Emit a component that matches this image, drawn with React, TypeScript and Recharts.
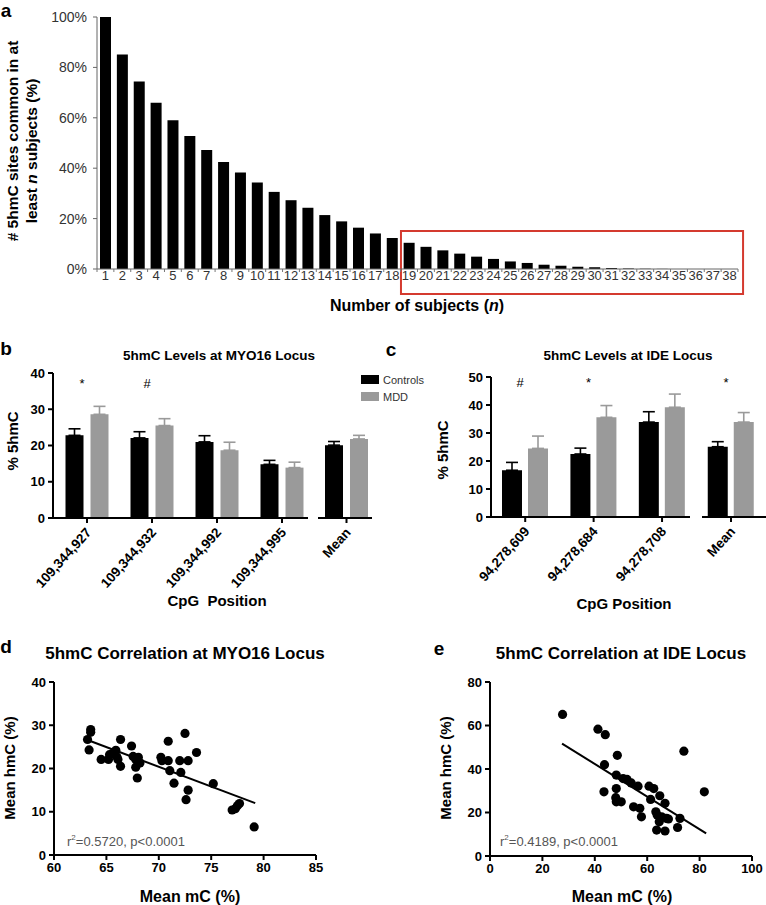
import React from 'react';
import {
  BarChart, Bar, XAxis, YAxis, ReferenceArea, ComposedChart, Scatter,
  ScatterChart, ErrorBar, ReferenceLine,
} from 'recharts';

const FONT = '"Liberation Sans", Arial, Helvetica, sans-serif';

// ---------- Panel a ----------
const subjects = [1, 2, 3, 4, 5, 6, 7, 8, 9, 10, 11, 12, 13, 14, 15, 16, 17, 18, 19, 20,
  21, 22, 23, 24, 25, 26, 27, 28, 29, 30, 31, 32, 33, 34, 35, 36, 37, 38];
const sharedPct = [100, 85.1, 74.4, 66, 59, 52.8, 47.2, 42.5, 38.3, 34.3, 30.6, 27.3, 24.3,
  21.4, 18.9, 16.4, 14.1, 12.3, 10.4, 8.8, 7.4, 6.1, 4.9, 4.0, 3.0, 2.4, 1.7, 1.3, 0.9, 0.7,
  0.4, 0.2, 0.1, 0.05, 0, 0, 0, 0];
const pctTicks = [0, 20, 40, 60, 80, 100];

// ---------- Panel b ----------
const myoPositions = ['109,344,927', '109,344,932', '109,344,992', '109,344,995'];
const myoControls = [22.8, 22.1, 21.0, 14.8];
const myoControlsErr = [1.8, 1.7, 1.7, 1.1];
const myoMdd = [28.6, 25.5, 18.7, 13.9];
const myoMddErr = [2.2, 1.9, 2.2, 1.5];
const myoSig = ['*', '#', '', ''];
const myoMeanLabel = ['Mean'];
const myoMeanControls = [20.1];
const myoMeanControlsErr = [1.0];
const myoMeanMdd = [21.8];
const myoMeanMddErr = [1.0];
const myoMeanSig = [''];
const myoTicks = [0, 10, 20, 30, 40];
const myoSigLevel = 36;

// ---------- Panel c ----------
const idePositions = ['94,278,609', '94,278,684', '94,278,708'];
const ideControls = [16.7, 22.5, 33.9];
const ideControlsErr = [2.8, 2.1, 3.7];
const ideMdd = [24.5, 35.6, 39.2];
const ideMddErr = [4.4, 4.2, 4.7];
const ideSig = ['#', '*', ''];
const ideMeanLabel = ['Mean'];
const ideMeanControls = [25.1];
const ideMeanControlsErr = [1.8];
const ideMeanMdd = [33.9];
const ideMeanMddErr = [3.4];
const ideMeanSig = ['*'];
const ideTicks = [0, 10, 20, 30, 40, 50];
const ideSigLevel = 46.5;

// ---------- Panel d ----------
const myoMc = [63.2, 63.35, 63.5, 63.5, 64.5, 65.2, 65.3, 65.6, 65.9, 66.0, 66.1, 66.35, 66.35,
  67.4, 67.55, 67.8, 67.8, 67.95, 68.05, 68.2, 70.2, 70.3, 70.9, 70.9, 71.05, 71.45, 72.0, 72.1,
  72.5, 72.6, 72.8, 72.8, 73.6, 75.2, 77.0, 77.3, 77.5, 77.7, 79.1];
const myoHmc = [26.7, 24.3, 29.0, 28.4, 22.1, 22.1, 23.2, 23.5, 24.2, 22.7, 22.1, 20.5, 26.7,
  25.2, 22.8, 22.1, 20.3, 17.8, 22.6, 21.3, 22.6, 21.8, 26.3, 21.8, 19.5, 16.6, 21.8, 19.1,
  28.1, 12.8, 21.8, 15.0, 23.7, 16.5, 10.4, 10.7, 11.4, 11.9, 6.5];
const myoFitX = [63.2, 79.2];
const myoFitY = [26.6, 12.0];
const myoXTicks = [60, 65, 70, 75, 80, 85];
const myoYTicks = [0, 10, 20, 30, 40];

// ---------- Panel e ----------
const ideMc = [27.7, 41.2, 44.0, 43.7, 43.5, 48.6, 48.2, 48.2, 48.0, 48.2, 50.1, 50.8, 52.3,
  53.9, 54.8, 56.5, 57.2, 57.8, 60.7, 62.5, 61.3, 64.8, 63.3, 63.8, 63.6, 64.6, 65.5, 66.8,
  67.4, 66.8, 68.1, 71.6, 72.5, 74.0, 81.8];
const ideHmc = [65.1, 58.3, 55.8, 42.0, 29.5, 46.3, 37.2, 31.0, 26.8, 24.9, 24.9, 35.6, 35.2,
  33.6, 22.6, 32.1, 21.9, 18.0, 32.1, 31.0, 26.0, 27.7, 20.3, 18.8, 11.9, 15.7, 18.0, 24.2,
  17.3, 11.5, 17.0, 13.1, 17.3, 48.2, 29.5];
const ideFitX = [27.5, 82.5];
const ideFitY = [51.7, 10.4];
const ideXTicks = [0, 20, 40, 60, 80, 100];
const ideYTicks = [0, 20, 40, 60, 80];

// ---------- derived tables ----------
const aData = subjects.map((n, i) => ({ n, pct: sharedPct[i] }));
const aTicks = [...subjects.map((n) => n - 0.5), subjects[subjects.length - 1] + 0.5, ...subjects];

const makeBars = (pos: string[], c: number[], ce: number[], m: number[], me: number[], sig: string[], level: number) =>
  pos.map((p, i) => ({ pos: p, ctrl: c[i], ctrlErr: [0, ce[i]], mdd: m[i], mddErr: [0, me[i]], sig: sig[i], sigY: level }));

const myoData = makeBars(myoPositions, myoControls, myoControlsErr, myoMdd, myoMddErr, myoSig, myoSigLevel);
const myoMeanData = makeBars(myoMeanLabel, myoMeanControls, myoMeanControlsErr, myoMeanMdd, myoMeanMddErr, myoMeanSig, myoSigLevel);
const ideData = makeBars(idePositions, ideControls, ideControlsErr, ideMdd, ideMddErr, ideSig, ideSigLevel);
const ideMeanData = makeBars(ideMeanLabel, ideMeanControls, ideMeanControlsErr, ideMeanMdd, ideMeanMddErr, ideMeanSig, ideSigLevel);

const myoPoints = myoMc.map((x, i) => ({ x, y: myoHmc[i] }));
const idePoints = ideMc.map((x, i) => ({ x, y: ideHmc[i] }));

// ---------- styles / helpers ----------
const AX = { stroke: '#000', strokeWidth: 2 };
const AXA = { stroke: '#666', strokeWidth: 1 };
const boldTick = { fill: '#000', fontSize: 13, fontWeight: 'bold', fontFamily: FONT };

const SubjectTick = (props: any) => {
  const { x, y, payload } = props;
  if (Number.isInteger(payload.value)) {
    return (
      <text x={x} y={y + 11} textAnchor="middle" fontSize={13} fill="#333" fontFamily={FONT}>
        {payload.value}
      </text>
    );
  }
  return <line x1={x} x2={x} y1={y} y2={y + 3} stroke="#777" strokeWidth={1} />;
};

const makeRotTick = (angle: number, size: number) => (props: any) => {
  const { x, y, payload } = props;
  return (
    <g transform={`translate(${x + 5},${y + 8}) rotate(${angle})`}>
      <text x={0} y={0} textAnchor="end" fontSize={size} fontWeight="bold" fontFamily={FONT} fill="#000">
        {payload.value}
      </text>
    </g>
  );
};
const RotTick = makeRotTick(-48, 13.5);

const SigShape = (props: any) => {
  const { cx, cy, payload } = props;
  if (!payload || !payload.sig) return <g />;
  return (
    <text x={cx - 5} y={cy} textAnchor="middle" fontSize={13} fontFamily={FONT} fill="#000">
      {payload.sig}
    </text>
  );
};

const Dot = (props: any) => <circle cx={props.cx} cy={props.cy} r={4.6} fill="#000" />;

const T = ({ x, y, children, size = 15, weight = 'bold', rotate = 0, color = '#000' }: any) => (
  <div style={{
    position: 'absolute', left: x, top: y, transform: `translate(-50%, -50%) rotate(${rotate}deg)`,
    fontSize: size, fontWeight: weight, whiteSpace: 'nowrap', color, lineHeight: 1, fontFamily: FONT,
  }}>{children}</div>
);

const L = ({ x, y, children, size = 11, color = '#333' }: any) => (
  <div style={{
    position: 'absolute', left: x, top: y, transform: 'translateY(-50%)',
    fontSize: size, whiteSpace: 'nowrap', color, lineHeight: 1, fontFamily: FONT,
  }}>{children}</div>
);

const Box = ({ left, top, width, height, children }: any) => (
  <div style={{ position: 'absolute', left, top, width, height }}>{children}</div>
);

const barSet = (size: number, gray: string) => [
  <Bar key="c" dataKey="ctrl" fill="#000" barSize={size} isAnimationActive={false}>
    <ErrorBar dataKey="ctrlErr" width={6} stroke="#000" strokeWidth={1.6} />
  </Bar>,
  <Bar key="m" dataKey="mdd" fill={gray} barSize={size} isAnimationActive={false}>
    <ErrorBar dataKey="mddErr" width={6} stroke={gray} strokeWidth={1.6} />
  </Bar>,
  <Scatter key="s" dataKey="sigY" shape={SigShape} isAnimationActive={false} />,
];

const GRAY = '#9a9a9a';

export default function App() {
  return (
    <div style={{ position: 'absolute', left: 0, top: 0, width: 766, height: 905, background: '#fff', fontFamily: FONT, overflow: 'hidden' }}>
      {/* Panel a */}
      <Box left={0} top={0} width={766} height={330}>
        <BarChart width={766} height={330} data={aData} margin={{ top: 17, right: 28, bottom: 0, left: 0 }}>
          <XAxis dataKey="n" type="number" domain={[0.5, 38.5]} ticks={aTicks} interval={0}
            tickSize={0} tickMargin={0} tickLine={false} axisLine={AXA} tick={SubjectTick} height={61} allowDecimals />
          <YAxis domain={[0, 100]} ticks={pctTicks} tickFormatter={(v: number) => `${v}%`} width={97}
            tickSize={4} tickMargin={6} axisLine={AXA} tickLine={AXA}
            tick={{ fill: '#333', fontSize: 14, fontFamily: FONT }} />
          <Bar dataKey="pct" fill="#000" barSize={11} isAnimationActive={false} />
          <ReferenceArea x1={18.52} x2={38.8} y1={-9.9} y2={15.1} fill="none" fillOpacity={0}
            stroke="#d43a2f" strokeWidth={2} ifOverflow="visible" />
        </BarChart>
      </Box>
      <T x={6} y={10} size={19}>a</T>
      <T x={13} y={141} rotate={-90} size={15.5}># 5hmC sites common in at</T>
      <T x={32} y={151} rotate={-90} size={15.5}>least <i>n</i> subjects (%)</T>
      <T x={417} y={306} size={16}>Number of subjects (<i>n</i>)</T>

      {/* Panel b */}
      <Box left={0} top={340} width={320} height={270}>
        <ComposedChart width={320} height={270} data={myoData} margin={{ top: 33, right: 12, bottom: 12, left: 0 }} barGap={7}>
          <XAxis dataKey="pos" type="category" interval={0} padding={{ left: 1.5, right: -6.5 }} height={80}
            tickSize={5} tickMargin={2} axisLine={AX} tickLine={AX} tick={RotTick} />
          <YAxis domain={[0, 40]} ticks={myoTicks} width={53} tickSize={5} tickMargin={3}
            axisLine={AX} tickLine={AX} tick={boldTick} />
          {barSet(18, GRAY)}
        </ComposedChart>
      </Box>
      <Box left={310} top={340} width={70} height={270}>
        <ComposedChart width={70} height={270} data={myoMeanData} margin={{ top: 33, right: 8, bottom: 12, left: 8 }} barGap={7}>
          <XAxis dataKey="pos" type="category" interval={0} padding={{ left: -4, right: -7 }} height={80}
            tickSize={5} tickMargin={2} axisLine={AX} tickLine={AX} tick={RotTick} />
          <YAxis hide domain={[0, 40]} ticks={myoTicks} />
          {barSet(18, GRAY)}
        </ComposedChart>
      </Box>
      <T x={6} y={348} size={19}>b</T>
      <T x={219} y={356} size={13.5}>5hmC Levels at MYO16 Locus</T>
      <T x={12} y={441} rotate={-90}>% 5hmC</T>
      <T x={217} y={600}>CpG&nbsp; Position</T>
      <div style={{ position: 'absolute', left: 361, top: 375, width: 18, height: 9, background: '#000' }} />
      <div style={{ position: 'absolute', left: 361, top: 392, width: 18, height: 9, background: GRAY }} />
      <L x={383} y={380}>Controls</L>
      <L x={383} y={397}>MDD</L>

      {/* Panel c */}
      <Box left={380} top={340} width={320} height={270}>
        <ComposedChart width={320} height={270} data={ideData} margin={{ top: 37, right: 10, bottom: 13, left: 0 }} barGap={6}>
          <XAxis dataKey="pos" type="category" interval={0} padding={{ left: 0, right: -6.25 }} height={80}
            tickSize={5} tickMargin={2} axisLine={AX} tickLine={AX} tick={RotTick} />
          <YAxis domain={[0, 50]} ticks={ideTicks} width={111} tickSize={5} tickMargin={3}
            axisLine={AX} tickLine={AX} tick={boldTick} />
          {barSet(20, GRAY)}
        </ComposedChart>
      </Box>
      <Box left={696} top={340} width={70} height={270}>
        <ComposedChart width={70} height={270} data={ideMeanData} margin={{ top: 37, right: 0, bottom: 13, left: 6 }} barGap={6}>
          <XAxis dataKey="pos" type="category" interval={0} padding={{ left: -5.25, right: 0.75 }} height={80}
            tickSize={5} tickMargin={2} axisLine={AX} tickLine={AX} tick={RotTick} />
          <YAxis hide domain={[0, 50]} ticks={ideTicks} />
          {barSet(20, GRAY)}
        </ComposedChart>
      </Box>
      <T x={391} y={349} size={19}>c</T>
      <T x={628} y={356} size={13.5}>5hmC Levels at IDE Locus</T>
      <T x={442} y={450} rotate={-90}>% 5hmC</T>
      <T x={624} y={603}>CpG Position</T>

      {/* Panel d */}
      <Box left={0} top={620} width={380} height={285}>
        <ScatterChart width={380} height={285} margin={{ top: 62, right: 64, bottom: 20, left: 0 }}>
          <XAxis type="number" dataKey="x" domain={[60, 85]} ticks={myoXTicks} interval={0} height={30}
            tickSize={5} tickMargin={3} axisLine={AX} tickLine={AX} tick={boldTick} />
          <YAxis type="number" dataKey="y" domain={[0, 40]} ticks={myoYTicks} width={54}
            tickSize={5} tickMargin={3} axisLine={AX} tickLine={AX} tick={boldTick} />
          <ReferenceLine segment={[{ x: myoFitX[0], y: myoFitY[0] }, { x: myoFitX[1], y: myoFitY[1] }]}
            stroke="#000" strokeWidth={2} />
          <Scatter data={myoPoints} shape={Dot} isAnimationActive={false} />
        </ScatterChart>
      </Box>
      <T x={6} y={646} size={19}>d</T>
      <T x={185} y={653} size={17}>5hmC Correlation at MYO16 Locus</T>
      <T x={9} y={768} rotate={-90} size={15}>Mean hmC (%)</T>
      <T x={190} y={897} size={16}>Mean mC (%)</T>
      <L x={67} y={841} size={13} color="#555">r<sup style={{ fontSize: 8 }}>2</sup>=0.5720, p&lt;0.0001</L>

      {/* Panel e */}
      <Box left={380} top={620} width={386} height={285}>
        <ScatterChart width={386} height={285} margin={{ top: 62, right: 14, bottom: 19, left: 0 }}>
          <XAxis type="number" dataKey="x" domain={[0, 100]} ticks={ideXTicks} interval={0} height={30}
            tickSize={5} tickMargin={3} axisLine={AX} tickLine={AX} tick={boldTick} />
          <YAxis type="number" dataKey="y" domain={[0, 80]} ticks={ideYTicks} width={110}
            tickSize={5} tickMargin={3} axisLine={AX} tickLine={AX} tick={boldTick} />
          <ReferenceLine segment={[{ x: ideFitX[0], y: ideFitY[0] }, { x: ideFitX[1], y: ideFitY[1] }]}
            stroke="#000" strokeWidth={2} />
          <Scatter data={idePoints} shape={Dot} isAnimationActive={false} />
        </ScatterChart>
      </Box>
      <T x={439} y={648} size={19}>e</T>
      <T x={621} y={653} size={17}>5hmC Correlation at IDE Locus</T>
      <T x={445} y={768} rotate={-90} size={15}>Mean hmC (%)</T>
      <T x={622} y={897} size={16}>Mean mC (%)</T>
      <L x={500} y={841} size={13} color="#555">r<sup style={{ fontSize: 8 }}>2</sup>=0.4189, p&lt;0.0001</L>
    </div>
  );
}
